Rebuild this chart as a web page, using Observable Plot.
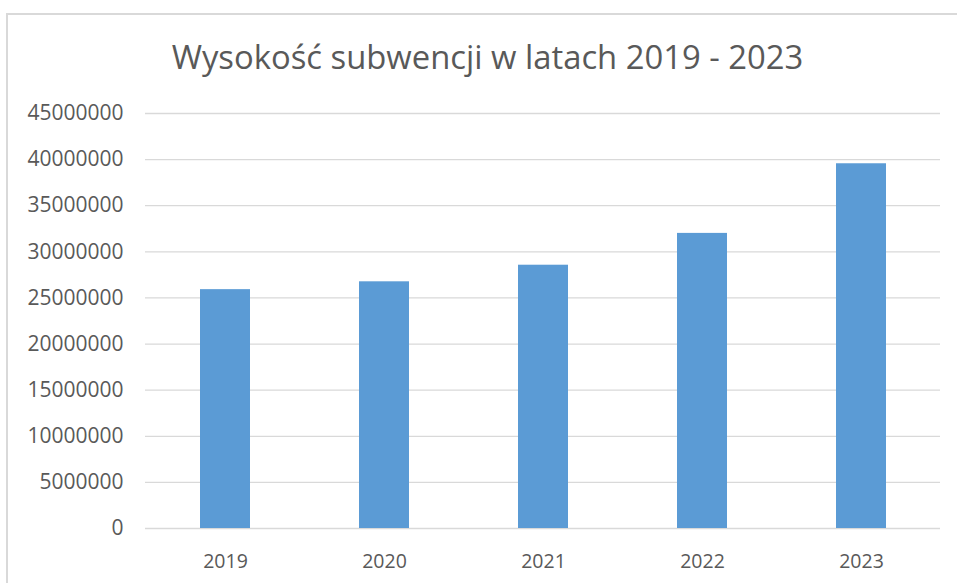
<!DOCTYPE html>
<html>
<head>
<meta charset="utf-8">
<script src="https://cdn.jsdelivr.net/npm/d3@7"></script>
<script src="https://cdn.jsdelivr.net/npm/@observablehq/plot@0.6"></script>
<style>
  html, body { margin: 0; padding: 0; background: #fff; }
  #wrap { position: relative; width: 957px; height: 583px; overflow: hidden; background: #fff; }
  #frame { position: absolute; left: 6px; top: 13px; right: -10px; bottom: -10px;
           border-top: 2px solid #d9d9d9; border-left: 2px solid #d9d9d9; pointer-events: none; }
  #title { position: relative; height: 95px; box-sizing: border-box; padding-top: 40px;
           text-align: center; font-family: "Open Sans", sans-serif; font-size: 32.8px; line-height: 33px;
           font-weight: 400; color: #595959; padding-left: 18px; white-space: nowrap; }
  #chart svg { display: block; }
</style>
</head>
<body>
<div id="wrap">
  <div id="frame"></div>
  <div id="title">Wysokość subwencji w latach 2019 - 2023</div>
  <div id="chart"></div>
</div>
<script>
const years = ["2019", "2020", "2021", "2022", "2023"];
const values = [25900000, 26750000, 28550000, 32000000, 39550000];
const yTicks = [0, 5000000, 10000000, 15000000, 20000000, 25000000, 30000000, 35000000, 40000000, 45000000];

const data = years.map((y, i) => ({year: y, value: values[i]}));

const chart = Plot.plot({
  width: 957,
  height: 488,
  marginTop: 18,
  marginBottom: 55,
  marginLeft: 145,
  marginRight: 17,
  style: {fontFamily: "Open Sans, sans-serif", color: "#595959", background: "transparent"},
  x: {domain: years, paddingInner: 0.686, paddingOuter: 0.343, align: 0.5, label: null},
  y: {domain: [0, 45000000], label: null},
  marks: [
    Plot.ruleY(yTicks, {stroke: "#d9d9d9", strokeWidth: 1.3}),
    Plot.barY(data, {x: "year", y: "value", fill: "#5B9BD5"}),
    Plot.axisY({ticks: yTicks, tickSize: 0, tickPadding: 22, tickFormat: d3.format("d"), fontSize: 21, fill: "#595959", label: null}),
    Plot.axisX({tickSize: 0, tickPadding: 26, fontSize: 19.5, fill: "#595959", label: null})
  ]
});
document.getElementById("chart").appendChild(chart);
</script>
</body>
</html>
